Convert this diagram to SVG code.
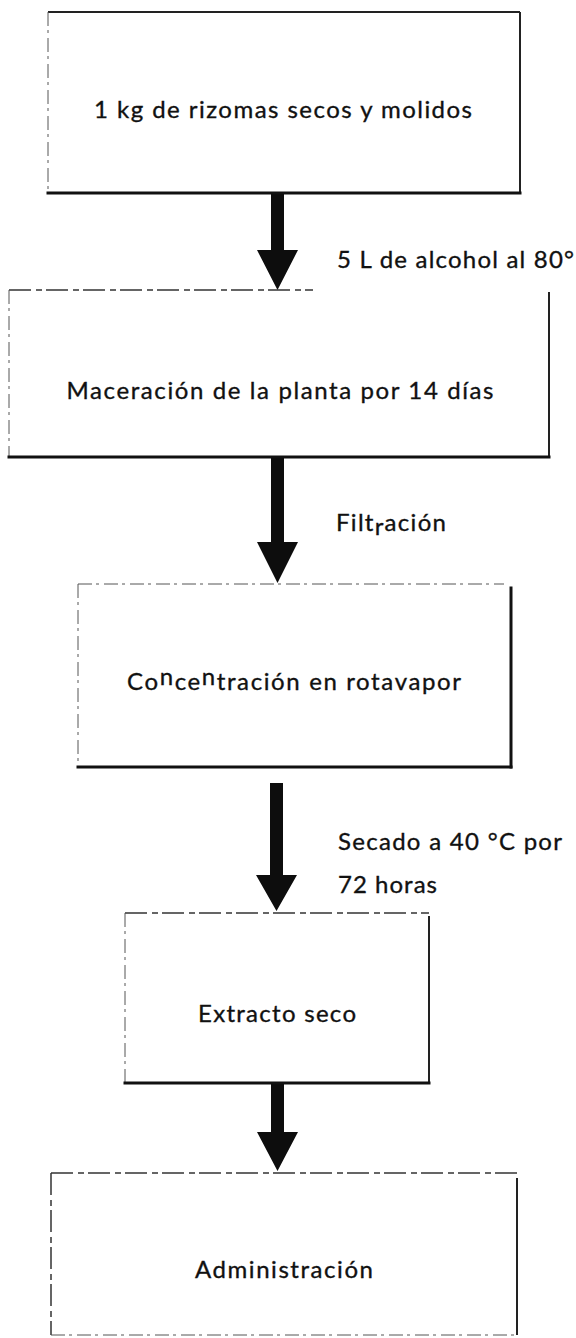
<svg xmlns="http://www.w3.org/2000/svg" width="576" height="1338" viewBox="0 0 576 1338">
  <style>
    .bg { fill: #ffffff; }
    .t { font-family: Lato, "Open Sans", "Liberation Sans", sans-serif; font-size: 24px; fill: #111111; stroke: #111111; stroke-width: 0.35px; }
    .mid { text-anchor: middle; }
    .strong { stroke: #111111; stroke-width: 3; fill: none; stroke-linecap: square; }
    .med { stroke: #222222; stroke-width: 2; fill: none; }
    .faint { stroke: #555555; stroke-width: 1; fill: none; stroke-dasharray: 14 4 3 5; }
    .dash { stroke: #333333; stroke-width: 1.5; fill: none; stroke-dasharray: 22 5 6 4; }
    .arrow { fill: #0d0d0d; stroke: none; }
  </style>
  <rect class="bg" x="0" y="0" width="576" height="1338"/>

  <g id="connectors">
    <polygon class="arrow" points="271,193 284,193 284,250 298,250 277.5,290 257,250 271,250"/>
    <polygon class="arrow" points="271,457 284,457 284,542 298,542 277.5,583 257,542 271,542"/>
    <polygon class="arrow" points="270,783 283,783 283,875 297,875 276.5,911 256,875 270,875"/>
    <polygon class="arrow" points="271,1083 284,1083 284,1132 298,1132 277.5,1171 257,1132 271,1132"/>
    <text class="t" x="337" y="268" textLength="237" lengthAdjust="spacing">5 L de alcohol al 80°</text>
    <text class="t" x="336" y="531" textLength="110" lengthAdjust="spacing">Filt<tspan dy="4">r</tspan><tspan dy="-4">ación</tspan></text>
    <text class="t" x="338" y="850" textLength="224" lengthAdjust="spacing">Secado a 40 °C por</text>
    <text class="t" x="338" y="893" textLength="99" lengthAdjust="spacing">72 horas</text>
  </g>

  <g id="node1">
    <line class="med" x1="48" y1="12" x2="520" y2="12"/>
    <line class="faint" x1="48" y1="12" x2="48" y2="193"/>
    <line class="med" x1="520" y1="12" x2="520" y2="193"/>
    <line class="strong" x1="48" y1="193" x2="520" y2="193"/>
    <text class="t mid" x="283" y="118" textLength="378" lengthAdjust="spacing">1 kg de rizomas secos y molidos</text>
  </g>

  <g id="node2">
    <line class="dash" x1="9" y1="290" x2="313" y2="290"/>
    <line class="faint" x1="9" y1="290" x2="9" y2="457"/>
    <line class="med" x1="549" y1="292" x2="549" y2="457"/>
    <line class="strong" x1="9" y1="457" x2="549" y2="457"/>
    <text class="t mid" x="280" y="399" textLength="427" lengthAdjust="spacing">Maceración de la planta por 14 días</text>
  </g>

  <g id="node3">
    <line class="faint" x1="78" y1="584" x2="504" y2="584"/>
    <line class="faint" x1="78" y1="584" x2="78" y2="767"/>
    <line class="strong" x1="511" y1="588" x2="511" y2="767"/>
    <line class="strong" x1="78" y1="767" x2="511" y2="767"/>
    <text class="t mid" x="294" y="690" textLength="334" lengthAdjust="spacing">Co<tspan dy="-5">n</tspan><tspan dy="5">ce</tspan><tspan dy="-5">n</tspan><tspan dy="5">tración en rotavapor</tspan></text>
  </g>

  <g id="node4">
    <line class="dash" x1="125" y1="913" x2="429" y2="913"/>
    <line class="faint" x1="125" y1="913" x2="125" y2="1083"/>
    <line class="med" x1="429" y1="916" x2="429" y2="1083"/>
    <line class="strong" x1="125" y1="1083" x2="429" y2="1083"/>
    <text class="t mid" x="277" y="1022" textLength="158" lengthAdjust="spacing">Extracto seco</text>
  </g>

  <g id="node5">
    <line class="dash" x1="51" y1="1173" x2="517" y2="1173"/>
    <line class="dash" x1="51" y1="1173" x2="51" y2="1335"/>
    <line class="med" x1="517" y1="1178" x2="517" y2="1335"/>
    <line class="faint" x1="51" y1="1335" x2="517" y2="1335"/>
    <text class="t mid" x="284" y="1278" textLength="178" lengthAdjust="spacing">Administración</text>
  </g>
</svg>
